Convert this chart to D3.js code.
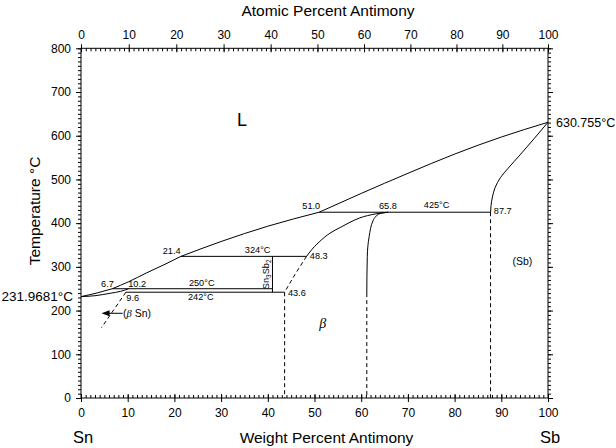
<!DOCTYPE html>
<html><head><meta charset="utf-8">
<script src="https://cdn.jsdelivr.net/npm/d3@7"></script>
<style>
html,body{margin:0;padding:0;background:#fff;}
svg{display:block;font-family:"Liberation Sans",Arial,Helvetica,sans-serif;}
</style></head><body>
<svg id="chart" width="616" height="448"></svg>
<script>
// ---------------- data ----------------
const wtTicks = d3.range(0, 101, 10);
const wtMinor = d3.range(0, 101, 1);
const atTicks = d3.range(0, 101, 10);
const atMinor = d3.range(0, 101, 1);
const tempTicks = d3.range(0, 801, 100);
const tempMinor = d3.range(0, 801, 10);
const massSn = 118.71, massSb = 121.76;
const meltSn = 231.9681, meltSb = 630.755;

// phase boundaries: [wt% Sb, °C]
const liquidusSn   = [[0, 231.9681], [3.5, 240.5], [6.7, 250]];
const solidusSn    = [[0, 231.9681], [3, 234], [6.2, 239.5], [8.5, 244], [10.2, 250]];
const liquidusA    = [[6.7, 250], [10.2, 266], [14, 286], [18, 306], [21.4, 324]];
const liquidusB    = [[21.4, 324], [30, 358], [40, 393], [51, 425]];
const liquidusC    = [[51, 425], [60, 468], [70, 514], [80, 558], [90, 597], [100, 630.755]];
const sbSolvus     = [[100, 630.755], [97, 593], [94, 556], [91.5, 526], [89.8, 504], [88.7, 482], [88.1, 460], [87.8, 440], [87.7, 425]];
const betaLeft     = [[48.3, 324], [49, 334], [51, 357], [53.3, 377], [55.5, 390], [59.7, 412], [63, 421], [65.8, 425]];
const betaLeftDash = [[48.3, 324], [45.8, 282], [43.6, 242]];
const betaRight    = [[65.8, 425], [64, 422], [62.6, 407], [61.7, 369], [61.3, 323], [61.2, 240]];
const snSolvusDash = [[9.6, 242], [4.4, 161]];
const isoT    = [250, 242, 324, 425];
const isoFrom = [6.7, 9.6, 21.4, 51.0];
const isoTo   = [41.0, 43.6, 48.3, 87.7];
const compoundW = 41.0, compoundFrom = 242, compoundTo = 324;
const dashW    = [43.6, 61.2, 87.7];
const dashFrom = [242, 240, 425];
const arrowFromTo = [[8.9, 193.8], [4.4, 193.8]];

// annotation texts with anchor [wt%, °C]
const noteText = ["6.7", "10.2", "9.6", "21.4", "250°C", "242°C", "48.3", "43.6", "51.0", "65.8", "425°C", "87.7", "(Sb)"];
const noteAt   = [[4.3, 255], [10.1, 255], [9.7, 221], [17.5, 328.5], [23.1, 256], [22.9, 224.5], [49.0, 317], [44.3, 233.5], [47.4, 431.5], [63.8, 431.3], [73.4, 434], [88.4, 421], [92.4, 304.5]];

// ---------------- layout ----------------
const svg = d3.select("#chart");
const x = d3.scaleLinear().domain([0, 100]).range([81, 548]);
const y = d3.scaleLinear().domain([0, 800]).range([398, 48.3]);
const at2wt = a => 100 * a * massSb / (a * massSb + (100 - a) * massSn);
const xa = d3.scaleLinear().domain(atMinor).range(atMinor.map(a => x(at2wt(a))));

const ink = "#000";
const tickFont = 12;

// frame
svg.append("rect").attr("x", x(0)).attr("y", y(800))
  .attr("width", x(100) - x(0)).attr("height", y(0) - y(800))
  .attr("fill", "none").attr("stroke", ink).attr("stroke-width", 1);

function styleAxis(g) {
  g.select(".domain").remove();
  g.selectAll("line").attr("stroke", ink).attr("stroke-width", 1);
  g.selectAll("text").attr("font-size", tickFont).attr("fill", ink)
    .attr("font-family", "Liberation Sans, Arial, sans-serif");
}
// left
svg.append("g").attr("transform", `translate(${x(0)},0)`)
  .call(d3.axisLeft(y).tickValues(tempMinor).tickSize(3).tickFormat("")).call(styleAxis);
svg.append("g").attr("transform", `translate(${x(0)},0)`)
  .call(d3.axisLeft(y).tickValues(tempTicks).tickSize(5).tickPadding(5).tickFormat(d3.format("d"))).call(styleAxis);
// right
svg.append("g").attr("transform", `translate(${x(100)},0)`)
  .call(d3.axisRight(y).tickValues(tempMinor).tickSize(3).tickFormat("")).call(styleAxis);
svg.append("g").attr("transform", `translate(${x(100)},0)`)
  .call(d3.axisRight(y).tickValues(tempTicks).tickSize(5).tickFormat("")).call(styleAxis);
// bottom
svg.append("g").attr("transform", `translate(0,${y(0)})`)
  .call(d3.axisBottom(x).tickValues(wtMinor).tickSize(-3).tickFormat("")).call(styleAxis);
svg.append("g").attr("transform", `translate(0,${y(0)})`)
  .call(d3.axisBottom(x).tickValues(wtTicks).tickSize(4).tickPadding(6).tickFormat(d3.format("d"))).call(styleAxis);
svg.append("g").attr("transform", `translate(0,${y(0)})`)
  .call(d3.axisBottom(x).tickValues(wtTicks).tickSize(-4).tickFormat("")).call(styleAxis);
// top (atomic %)
svg.append("g").attr("transform", `translate(0,${y(800)})`)
  .call(d3.axisTop(xa).tickValues(atMinor).tickSize(-3).tickFormat("")).call(styleAxis);
svg.append("g").attr("transform", `translate(0,${y(800)})`)
  .call(d3.axisTop(xa).tickValues(atTicks).tickSize(4).tickPadding(5).tickFormat(d3.format("d"))).call(styleAxis);
svg.append("g").attr("transform", `translate(0,${y(800)})`)
  .call(d3.axisTop(xa).tickValues(atTicks).tickSize(-4).tickFormat("")).call(styleAxis);

// axis titles
svg.append("text").attr("x", 328).attr("y", 15.5).attr("text-anchor", "middle")
  .attr("font-size", 15.5).text("Atomic Percent Antimony");
svg.append("text").attr("x", 326.5).attr("y", 443).attr("text-anchor", "middle")
  .attr("font-size", 15.5).text("Weight Percent Antimony");
svg.append("text").attr("transform", "translate(40,211) rotate(-90)").attr("text-anchor", "middle")
  .attr("font-size", 15.5).text("Temperature °C");
svg.append("text").attr("x", x(0) + 2).attr("y", 443).attr("text-anchor", "middle")
  .attr("font-size", 16.5).text("Sn");
svg.append("text").attr("x", x(100) + 2).attr("y", 443).attr("text-anchor", "middle")
  .attr("font-size", 16.5).text("Sb");
svg.append("text").attr("x", x(0) - 8).attr("y", y(meltSn)).attr("dy", "0.35em").attr("text-anchor", "end")
  .attr("font-size", 13.5).text("231.9681°C");
svg.append("text").attr("x", x(100) + 8).attr("y", y(meltSb)).attr("dy", "0.35em").attr("text-anchor", "start")
  .attr("font-size", 12.5).text("630.755°C");

// ---------------- phase boundaries ----------------
const lineX = d3.line().x(d => x(d[0])).y(d => y(d[1])).curve(d3.curveMonotoneX);
const lineY = d3.line().x(d => x(d[0])).y(d => y(d[1])).curve(d3.curveMonotoneY);
const solidX = [liquidusSn, solidusSn, liquidusA, liquidusB, liquidusC, betaLeft];
const solidY = [sbSolvus, betaRight];
const dashed = [betaLeftDash, snSolvusDash];
const g = svg.append("g").attr("fill", "none").attr("stroke", ink).attr("stroke-width", 1);
g.selectAll("path.sx").data(solidX).join("path").attr("class", "sx").attr("d", lineX);
g.selectAll("path.sy").data(solidY).join("path").attr("class", "sy").attr("d", lineY);
g.selectAll("path.d").data(dashed).join("path").attr("class", "d").attr("d", lineY).attr("stroke-dasharray", "4,3");
g.selectAll("line.iso").data(isoT).join("line").attr("class", "iso")
  .attr("x1", (d, i) => x(isoFrom[i])).attr("x2", (d, i) => x(isoTo[i]))
  .attr("y1", d => y(d)).attr("y2", d => y(d));
g.append("line").attr("x1", x(compoundW)).attr("x2", x(compoundW))
  .attr("y1", y(compoundFrom)).attr("y2", y(compoundTo));
g.selectAll("line.dv").data(dashW).join("line").attr("class", "dv")
  .attr("x1", d => x(d)).attr("x2", d => x(d))
  .attr("y1", (d, i) => y(dashFrom[i])).attr("y2", y(0)).attr("stroke-dasharray", "4,3");

// arrow (beta Sn)
const a0 = arrowFromTo[0], a1 = arrowFromTo[1];
g.append("line").attr("x1", x(a0[0])).attr("y1", y(a0[1])).attr("x2", x(a1[0]) + 6).attr("y2", y(a1[1]));
svg.append("path").attr("fill", ink)
  .attr("d", `M${x(a1[0])},${y(a1[1])} l8,-3 l0,6 z`);
svg.append("text").attr("x", x(a0[0]) + 0.5).attr("y", y(a0[1])).attr("dy", "0.35em")
  .attr("font-size", 10.5)
  .call(t => {
    t.append("tspan").text("(");
    t.append("tspan").attr("font-family", "Liberation Serif, serif").attr("font-style", "italic").text("β");
    t.append("tspan").text(" Sn)");
  });

// annotations
svg.append("g").selectAll("text").data(noteText).join("text")
  .attr("x", (d, i) => x(noteAt[i][0])).attr("y", (d, i) => y(noteAt[i][1]))
  .attr("font-size", (d) => d === "(Sb)" ? 10.5 : 9.2).text(d => d);
svg.append("text").attr("x", x(compoundW) - 2).attr("y", y(324) - 3.5).attr("text-anchor", "end")
  .attr("font-size", 9.2).text("324°C");
svg.append("text").attr("transform", `translate(${x(compoundW) - 3},${y(283)}) rotate(-90)`)
  .attr("text-anchor", "middle").attr("font-size", 9.2)
  .call(t => {
    t.append("tspan").text("Sn");
    t.append("tspan").attr("font-size", 6.5).attr("dy", 2).text("3");
    t.append("tspan").attr("dy", -2).text("Sb");
    t.append("tspan").attr("font-size", 6.5).attr("dy", 2).text("2");
  });
svg.append("text").attr("x", x(33.4)).attr("y", y(622)).attr("font-size", 18).text("L");
svg.append("text").attr("x", x(51)).attr("y", y(160)).attr("font-size", 14)
  .attr("font-family", "Liberation Serif, serif").attr("font-style", "italic").text("β");
</script>
</body></html>
